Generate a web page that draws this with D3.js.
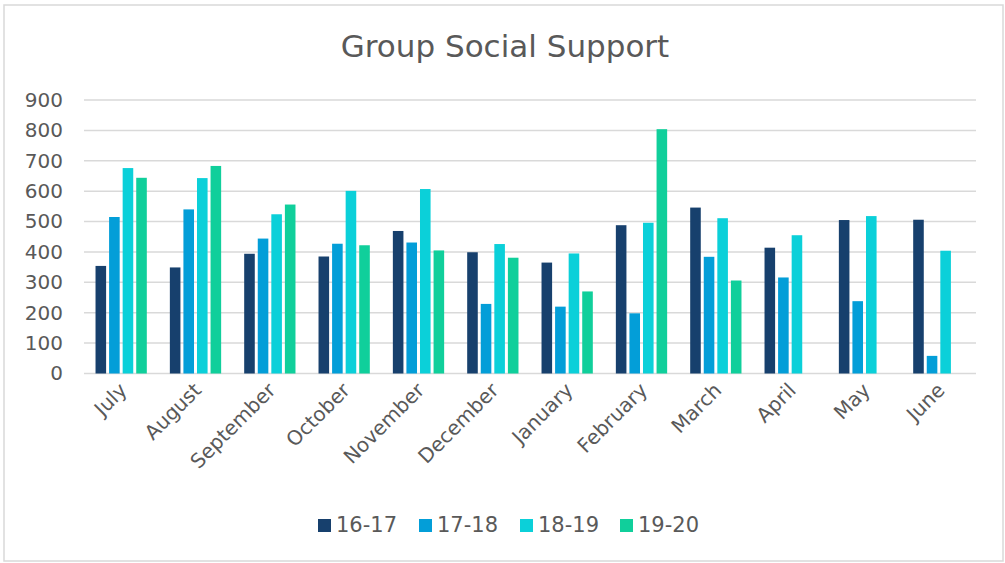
<!DOCTYPE html>
<html>
<head>
<meta charset="utf-8">
<script src="https://cdn.jsdelivr.net/npm/d3@7"></script>
<style>
  html, body { margin: 0; padding: 0; background: #ffffff; }
  svg text { font-family: "DejaVu Sans", Verdana, sans-serif; fill: #595959; }
</style>
</head>
<body>
<svg id="chart" width="1005" height="563"></svg>
<script>
// Monthly attendance for group social support, one series per year
const months = ["July", "August", "September", "October", "November", "December",
                "January", "February", "March", "April", "May", "June"];
const seriesNames = ["16-17", "17-18", "18-19", "19-20"];
const s1617 = [354, 349, 394, 385, 469, 399, 365, 488, 546, 414, 505, 506];
const s1718 = [515, 540, 444, 427, 431, 229, 220, 198, 384, 316, 238, 58];
const s1819 = [676, 643, 524, 601, 607, 426, 395, 496, 511, 455, 518, 404];
const s1920 = [644, 683, 556, 422, 405, 381, 270, 804, 306, null, null, null];
const yTicks = [0, 100, 200, 300, 400, 500, 600, 700, 800, 900];
const colors = ["#17406d", "#039ed8", "#0bd0d9", "#10cf9b"];

const seriesValues = [s1617, s1718, s1819, s1920];

const svg = d3.select("#chart");
const W = 1005, H = 563;
const plot = { left: 84, right: 976, top: 100, bottom: 373.5 };

// Outer chart frame
svg.append("rect")
  .attr("x", 4).attr("y", 5)
  .attr("width", 999).attr("height", 556)
  .attr("fill", "#ffffff")
  .attr("stroke", "#d9d9d9").attr("stroke-width", 1.5);

// Title
svg.append("text")
  .attr("x", 505).attr("y", 57)
  .attr("text-anchor", "middle")
  .style("font-size", "31px")
  .text("Group Social Support");

const x0 = d3.scaleBand()
  .domain(months)
  .range([plot.left, plot.right])
  .paddingInner(0.31)
  .paddingOuter(0.155);

const x1 = d3.scaleBand()
  .domain(seriesNames)
  .range([0, x0.bandwidth()])
  .paddingInner(0.22);

const y = d3.scaleLinear()
  .domain([0, 900])
  .range([plot.bottom, plot.top]);

// Horizontal gridlines
svg.append("g")
  .selectAll("line")
  .data(yTicks)
  .join("line")
  .attr("x1", plot.left).attr("x2", plot.right)
  .attr("y1", d => y(d)).attr("y2", d => y(d))
  .attr("stroke", "#d9d9d9").attr("stroke-width", 1.5);

// Y axis labels
const yAxis = d3.axisLeft(y).tickValues(yTicks).tickSize(0).tickPadding(0);
const gy = svg.append("g")
  .attr("transform", `translate(${plot.left - 21},0)`)
  .call(yAxis);
gy.select(".domain").remove();
gy.selectAll("text")
  .style("font-size", "20px")
  .style("font-family", "\"DejaVu Sans\", Verdana, sans-serif")
  .attr("fill", "#595959");

// Bars
const rows = months.map((m, i) => ({
  month: m,
  values: seriesNames.map((s, k) => ({ series: s, k, value: seriesValues[k][i] }))
}));

svg.append("g")
  .selectAll("g")
  .data(rows)
  .join("g")
  .attr("transform", d => `translate(${x0(d.month)},0)`)
  .selectAll("rect")
  .data(d => d.values.filter(v => v.value != null))
  .join("rect")
  .attr("x", d => x1(d.series))
  .attr("width", x1.bandwidth())
  .attr("y", d => y(d.value))
  .attr("height", d => y(0) - y(d.value))
  .attr("fill", d => colors[d.k]);

// X axis category labels, rotated
const xAxis = d3.axisBottom(x0).tickSize(0).tickPadding(0);
const gx = svg.append("g")
  .attr("transform", `translate(0,${plot.bottom})`)
  .call(xAxis);
gx.select(".domain").remove();
gx.selectAll("text")
  .style("font-size", "20px")
  .style("font-family", "\"DejaVu Sans\", Verdana, sans-serif")
  .attr("fill", "#595959")
  .attr("text-anchor", "end")
  .attr("dy", "0")
  .attr("transform", "translate(7,18) rotate(-45)");

// Legend
const legendX = [318, 419, 520, 620];
const legend = svg.append("g")
  .selectAll("g")
  .data(seriesNames)
  .join("g")
  .attr("transform", (d, i) => `translate(${legendX[i]},519)`);
legend.append("rect")
  .attr("width", 13).attr("height", 13)
  .attr("fill", (d, i) => colors[i]);
legend.append("text")
  .attr("x", 18).attr("y", 13)
  .style("font-size", "21px")
  .text(d => d);
</script>
</body>
</html>
